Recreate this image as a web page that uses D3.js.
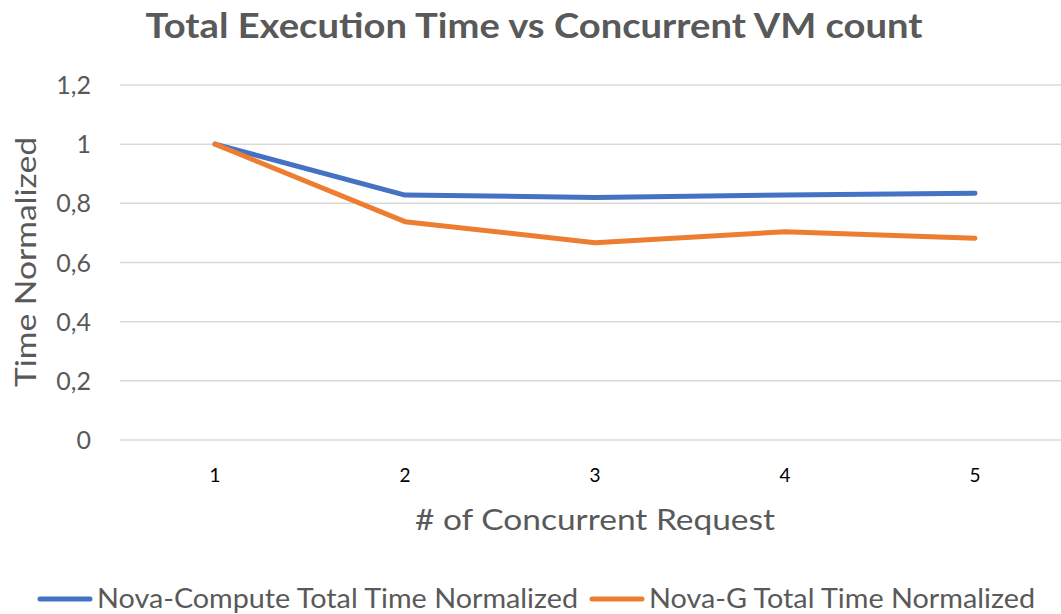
<!DOCTYPE html>
<html><head><meta charset="utf-8">
<script src="https://cdn.jsdelivr.net/npm/d3@7"></script>
<style>body{margin:0;background:#fff}svg{display:block}text{font-family:Lato,"Open Sans",sans-serif}</style>
</head><body>
<script>
const categories = ["1","2","3","4","5"];
const novaCompute = [1.0, 0.828, 0.820, 0.828, 0.834];
const novaG = [1.0, 0.738, 0.667, 0.704, 0.682];
const yTicks = [0, 0.2, 0.4, 0.6, 0.8, 1.0, 1.2];
const seriesNames = ["Nova-Compute Total Time Normalized", "Nova-G Total Time Normalized"];
const colors = ["#4472C4", "#ED7D31"];

const W = 1061, H = 614;
const svg = d3.select("body").append("svg").attr("width", W).attr("height", H);
const x = d3.scaleBand().domain(categories).range([120, 1070]);
const y = d3.scaleLinear().domain([0, 1.2]).range([440, 85]);

svg.append("g").selectAll("line").data(yTicks).join("line")
  .attr("x1", 120).attr("x2", 1070)
  .attr("y1", d => y(d)).attr("y2", d => y(d))
  .attr("stroke", "#d9d9d9").attr("stroke-width", 1.5);

const fmt = d => d3.format("~g")(d).replace(".", ",");
svg.append("g").selectAll("text").data(yTicks).join("text")
  .attr("x", 91).attr("y", d => y(d)).attr("dy", "0.36em")
  .attr("text-anchor", "end").attr("font-size", 25).attr("fill", "#595959")
  .text(fmt);

svg.append("g").selectAll("text").data(categories).join("text")
  .attr("x", d => x(d) + x.bandwidth() / 2).attr("y", 482)
  .attr("text-anchor", "middle").attr("font-size", 19).attr("fill", "#000")
  .text(d => d);

const line = d3.line().x((d, i) => x(categories[i]) + x.bandwidth() / 2).y(d => y(d));
[novaCompute, novaG].forEach((s, i) => {
  svg.append("path").datum(s).attr("d", line).attr("fill", "none")
    .attr("stroke", colors[i]).attr("stroke-width", 5)
    .attr("stroke-linecap", "round").attr("stroke-linejoin", "round");
});

svg.append("text").attr("x", 534).attr("y", 38).attr("text-anchor", "middle")
  .attr("font-size", 34).attr("font-weight", "bold").attr("fill", "#595959")
  .attr("textLength", 777).attr("lengthAdjust", "spacingAndGlyphs")
  .text("Total Execution Time vs Concurrent VM count");

svg.append("text").attr("x", 595).attr("y", 530).attr("text-anchor", "middle")
  .attr("font-size", 29).attr("fill", "#595959")
  .attr("textLength", 360).attr("lengthAdjust", "spacingAndGlyphs")
  .text("# of Concurrent Request");

svg.append("text").attr("transform", "translate(36,262) rotate(-90)")
  .attr("text-anchor", "middle").attr("font-size", 29).attr("fill", "#595959")
  .attr("textLength", 250).attr("lengthAdjust", "spacingAndGlyphs")
  .text("Time Normalized");

const legend = [
  {x1: 40, x2: 90, tx: 97, tl: 481},
  {x1: 592, x2: 642, tx: 649, tl: 386}
];
legend.forEach((l, i) => {
  svg.append("line").attr("x1", l.x1).attr("x2", l.x2).attr("y1", 599).attr("y2", 599)
    .attr("stroke", colors[i]).attr("stroke-width", 5).attr("stroke-linecap", "round");
  svg.append("text").attr("x", l.tx).attr("y", 599).attr("dy", "0.36em")
    .attr("font-size", 26).attr("fill", "#595959")
    .attr("textLength", l.tl).attr("lengthAdjust", "spacingAndGlyphs")
    .text(seriesNames[i]);
});
</script>
</body></html>
